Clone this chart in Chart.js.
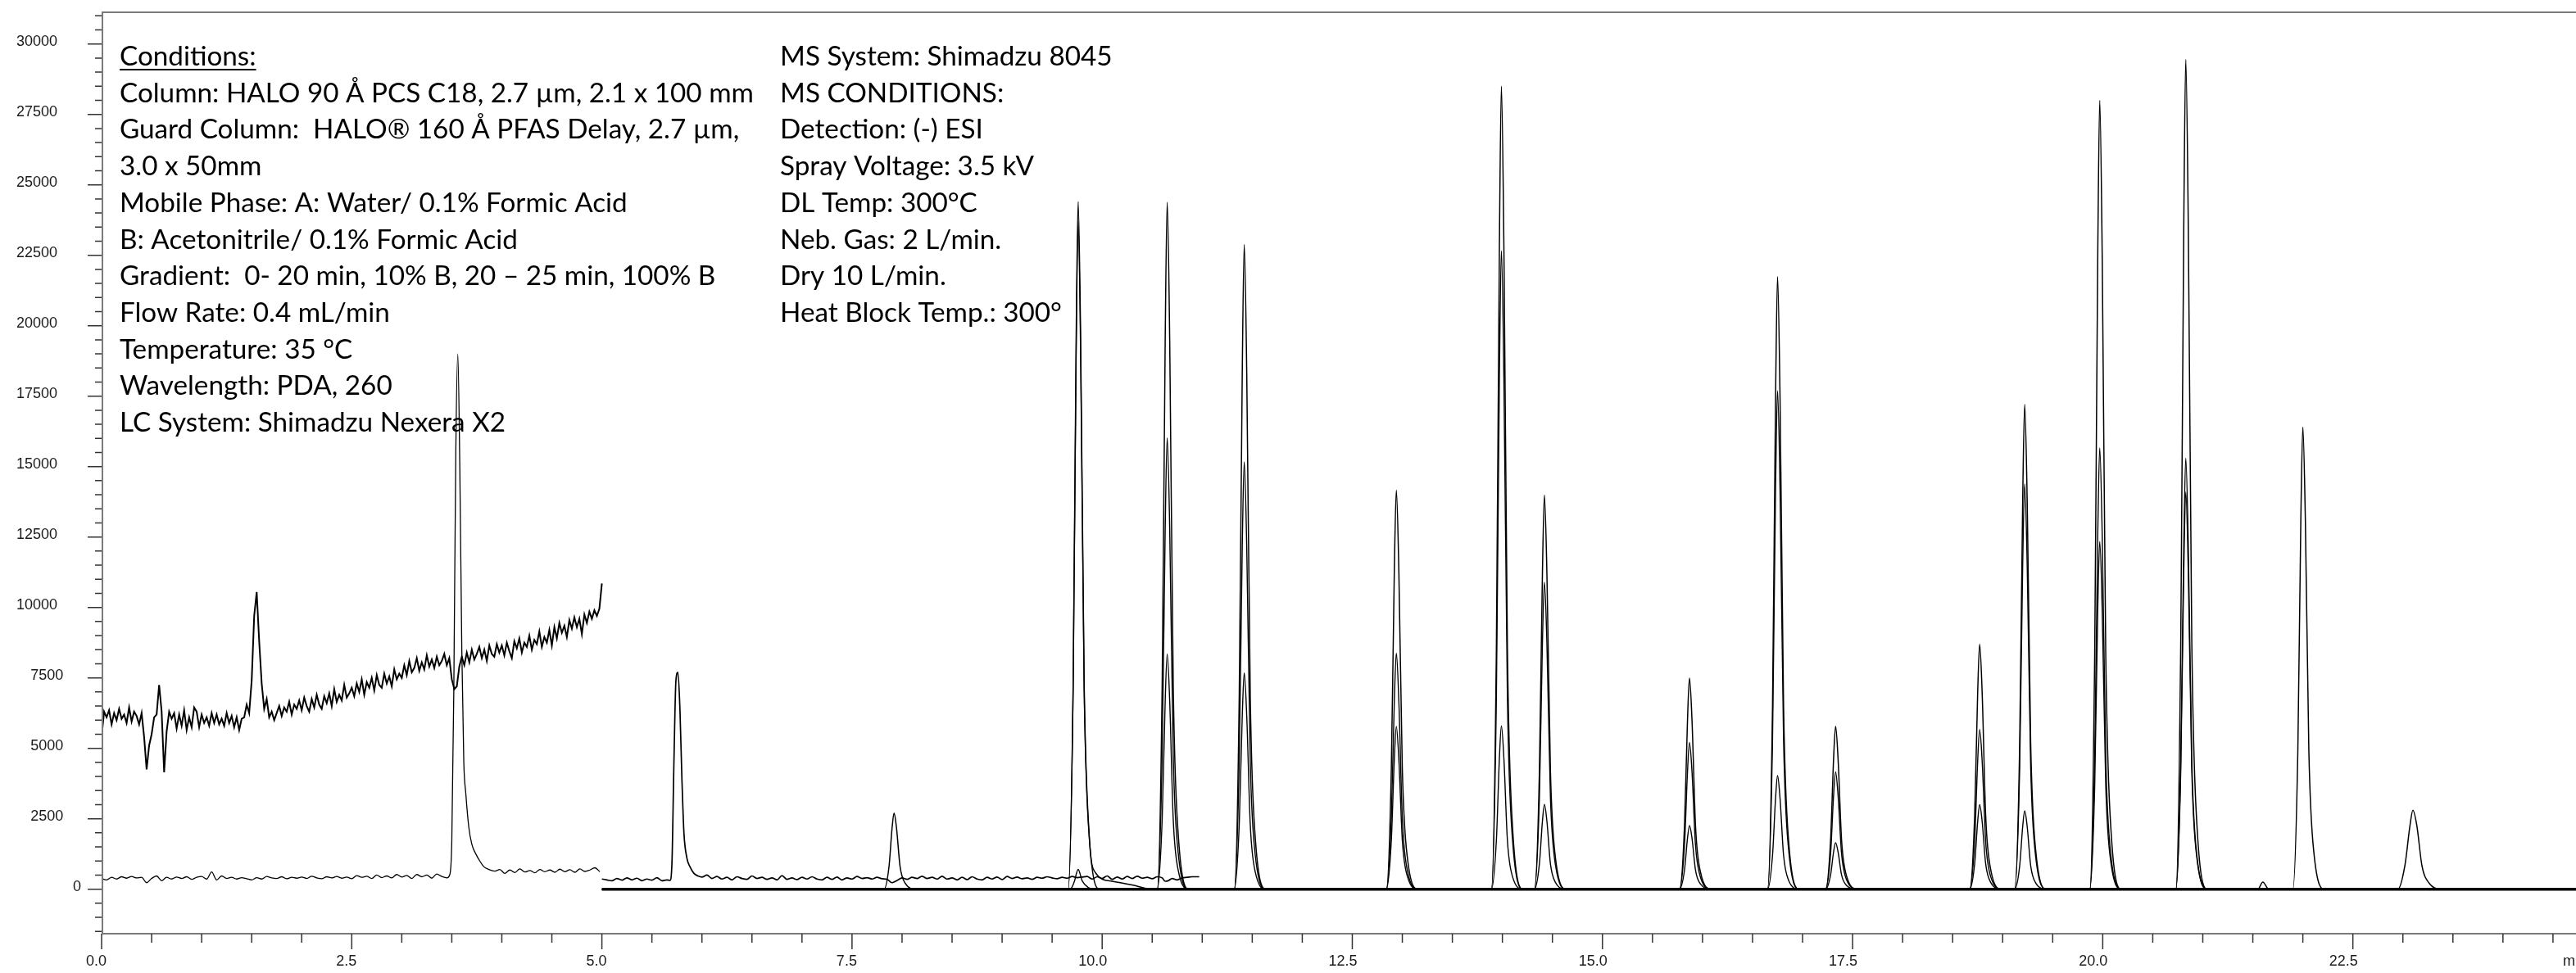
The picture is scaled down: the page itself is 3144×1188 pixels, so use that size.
<!DOCTYPE html>
<html>
<head>
<meta charset="utf-8">
<script src="https://cdn.jsdelivr.net/npm/chart.js@4.4.1/dist/chart.umd.min.js"></script>
<style>
  html, body { margin: 0; padding: 0; background: #fff; }
  canvas { display: block; }
</style>
</head>
<body>
<canvas id="chrom" width="3144" height="1188"></canvas>
<script>
// axis ranges and labelled ticks
const xTickLabels = [0, 2.5, 5, 7.5, 10, 12.5, 15, 17.5, 20, 22.5];
const yTickLabels = [0, 2500, 5000, 7500, 10000, 12500, 15000, 17500, 20000, 22500, 25000, 27500, 30000];
const timeMin = 0, timeMax = 24.73;
const signalMin = -1580, signalMax = 31125;

// PDA trace (0 - 5 min), sampled every 0.025 min
const pdaStart = 0, pdaStep = 0.025;
const pdaValues = [
  5400, 6300, 6100, 6350, 5850, 6250, 6000, 6400, 6050, 6200, 5900, 6450, 5950, 6300, 6150, 5850, 6250, 5400, 4250, 5100,
  5500, 6100, 6200, 7250, 6300, 4150, 5600, 6300, 6050, 6250, 5700, 6200, 5800, 6350, 5650, 6100, 5750, 6450, 6300, 5750,
  6200, 5900, 6100, 5800, 6250, 5900, 6200, 5850, 6050, 5800, 6250, 5900, 6150, 5750, 6100, 5650, 6050, 6100, 6550, 6250,
  7400, 9700, 10550, 8800, 7300, 6400, 6750, 6100, 6300, 6000, 6250, 6500, 6150, 6450, 6300, 6650, 6200, 6550, 6400, 6700,
  6350, 6800, 6500, 6300, 6750, 6450, 6900, 6550, 6400, 6850, 6600, 6950, 6500, 7100, 6650, 6900, 6700, 7250, 6800, 6950,
  7150, 6850, 7300, 7000, 7450, 6900, 7350, 7150, 7500, 7050, 7600, 7250, 7150, 7650, 7300, 7550, 7200, 7800, 7450, 7650,
  7500, 7950, 7600, 8100, 7700, 7850, 8200, 7750, 8050, 7800, 8300, 7900, 8150, 7850, 8250, 7950, 8100, 8350, 7950, 8200,
  7450, 7100, 7200, 7900, 8250, 7950, 8400, 8050, 8500, 8150, 8350, 8600, 8200, 8500, 8100, 8650, 8350, 8250, 8700, 8400,
  8650, 8300, 8750, 8450, 8200, 8800, 8550, 8900, 8400, 8750, 8600, 9000, 8500, 8850, 8700, 9150, 8600, 8950, 8750, 9200,
  8650, 9300, 8900, 9450, 9100, 9350, 8950, 9550, 9250, 9650, 9300, 9600, 9050, 9750, 9450, 9850, 9600, 9900, 9700, 9950,
  10850
];

// low trace 0 - 5 min [time, signal]
const lowTrace = [
  [0,380],[0.05,330],[0.1,420],[0.15,360],[0.2,440],[0.25,390],[0.3,450],[0.35,400],[0.4,420],[0.45,230],
  [0.5,380],[0.55,470],[0.6,300],[0.65,420],[0.7,360],[0.75,430],[0.8,380],[0.85,440],[0.9,350],[0.95,420],
  [1.0,450],[1.05,360],[1.1,610],[1.15,330],[1.2,470],[1.25,380],[1.3,420],[1.35,360],[1.4,410],[1.45,370],
  [1.5,330],[1.55,410],[1.6,360],[1.65,450],[1.7,400],[1.75,380],[1.8,440],[1.85,370],[1.9,420],[1.95,390],
  [2.0,430],[2.05,380],[2.1,460],[2.15,400],[2.2,370],[2.25,440],[2.3,400],[2.35,450],[2.4,390],[2.45,430],
  [2.5,370],[2.55,480],[2.6,420],[2.65,460],[2.7,380],[2.75,500],[2.8,410],[2.85,470],[2.9,400],[2.95,520],
  [3.0,430],[3.05,490],[3.1,380],[3.15,520],[3.2,440],[3.25,500],[3.3,390],[3.35,540],[3.4,450],[3.45,400],
  [3.48,520],[3.5,1700],[3.52,7000],[3.54,15500],[3.56,19000],[3.58,15000],[3.6,8500],[3.62,4500],[3.64,3400],
  [3.67,2200],[3.7,1600],[3.74,1250],[3.78,1000],[3.82,800],[3.87,700],[3.93,640],
  [3.98,700],[4.03,560],[4.08,680],[4.13,590],[4.18,720],[4.23,610],[4.28,660],[4.33,580],[4.38,700],[4.43,620],
  [4.48,680],[4.53,600],[4.58,710],[4.63,620],[4.68,690],[4.73,600],[4.78,720],[4.83,630],[4.88,680],[4.93,760],[4.98,620]
];

// second low trace 5 - 11 min
const midTrace = [
  [5.0,360],[5.05,330],[5.1,300],[5.15,380],[5.2,320],[5.25,400],[5.3,330],[5.35,390],[5.4,300],[5.45,360],
  [5.5,320],[5.55,410],[5.6,300],[5.65,330],[5.68,310],[5.7,900],[5.72,4500],[5.74,7400],[5.76,7700],[5.78,6400],
  [5.8,3900],[5.82,2000],[5.85,1100],[5.88,800],[5.92,560],[5.96,470],[6.0,430],[6.05,500],[6.1,380],[6.15,450],
  [6.2,360],[6.25,420],[6.3,330],[6.35,440],[6.4,380],[6.45,350],[6.5,470],[6.55,380],[6.6,420],[6.65,350],
  [6.7,400],[6.75,330],[6.8,480],[6.85,350],[6.9,400],[6.95,340],[7.0,420],[7.05,360],[7.1,440],[7.15,360],
  [7.2,330],[7.25,420],[7.3,350],[7.35,430],[7.4,330],[7.45,400],[7.5,360],[7.55,450],[7.6,380],[7.65,410],
  [7.7,360],[7.75,420],[7.8,370],[7.85,350],[7.9,230],[7.95,310],[8.0,400],[8.05,350],[8.1,420],[8.15,380],
  [8.2,460],[8.25,380],[8.3,420],[8.35,360],[8.4,460],[8.45,360],[8.5,400],[8.55,330],[8.6,420],[8.65,340],
  [8.7,440],[8.75,360],[8.8,330],[8.85,420],[8.9,360],[8.95,430],[9.0,340],[9.05,450],[9.1,380],[9.15,430],
  [9.2,370],[9.25,400],[9.3,350],[9.35,420],[9.4,390],[9.45,440],[9.5,400],[9.55,370],[9.6,420],[9.65,390],
  [9.7,450],[9.75,410],[9.8,430],[9.85,450],[9.9,360],[9.95,440],[10.0,380],[10.05,470],[10.1,350],[10.15,430],
  [10.2,360],[10.25,450],[10.3,380],[10.35,460],[10.4,390],[10.45,420],[10.5,370],[10.55,440],[10.6,400],[10.63,280],
  [10.66,300],[10.7,380],[10.75,330],[10.8,400],[10.85,420],[10.9,440],[10.97,440]
];

// MS traces, tallest envelope
const mrmA = [
  [5.0,0],
  [7.82,0],[7.87,810],[7.9,2160],[7.92,2700],[7.945,2160],[7.98,810],[8.03,216],[8.14,0],
  [9.66,0],[9.71,7320],[9.74,19520],[9.76,24400],[9.785,19520],[9.82,7320],[9.87,1952],[9.93,600],[10.1,280],[10.3,150],[10.5,0],
  [10.55,0],[10.6,7310],[10.63,19500],[10.65,24380],[10.675,19500],[10.71,7310],[10.76,1950],[10.87,0],
  [11.32,0],[11.37,6860],[11.4,18300],[11.42,22880],[11.445,18300],[11.48,6860],[11.53,1830],[11.64,0],
  [12.84,0],[12.89,4250],[12.92,11330],[12.94,14160],[12.965,11330],[13.0,4250],[13.05,1130],[13.16,0],
  [13.89,0],[13.94,8550],[13.97,22800],[13.99,28500],[14.015,22800],[14.05,8550],[14.1,2280],[14.21,0],
  [14.32,0],[14.37,4200],[14.4,11190],[14.42,13990],[14.445,11190],[14.48,4200],[14.53,1120],[14.64,0],
  [15.77,0],[15.82,2250],[15.85,6000],[15.87,7500],[15.895,6000],[15.93,2250],[15.98,600],[16.09,0],
  [16.65,0],[16.7,6520],[16.73,17390],[16.75,21740],[16.775,17390],[16.81,6520],[16.86,1740],[16.97,0],
  [17.23,0],[17.28,1730],[17.31,4620],[17.33,5780],[17.355,4620],[17.39,1730],[17.44,460],[17.55,0],
  [18.67,0],[18.72,2610],[18.75,6960],[18.77,8700],[18.795,6960],[18.83,2610],[18.88,700],[18.99,0],
  [19.12,0],[19.17,5160],[19.2,13770],[19.22,17210],[19.245,13770],[19.28,5160],[19.33,1380],[19.44,0],
  [19.87,0],[19.92,8400],[19.95,22400],[19.97,28000],[19.995,22400],[20.03,8400],[20.08,2240],[20.19,0],
  [20.73,0],[20.78,8840],[20.81,23560],[20.83,29450],[20.855,23560],[20.89,8840],[20.94,2360],[21.05,0],
  [21.55,0],[21.6,250],[21.66,0],
  [21.9,0],[21.95,4920],[21.98,13120],[22.0,16400],[22.025,13120],[22.06,4920],[22.11,1310],[22.22,0],
  [22.95,0],[23.02,840],[23.07,2240],[23.1,2800],[23.14,2240],[23.19,840],[23.26,224],[23.4,0],
  [24.73,0]
];

// MS traces, middle
const mrmB = [
  [5.0,0],
  [9.66,0],[9.71,7100],[9.74,18940],[9.76,23680],[9.785,18940],[9.82,7100],[9.87,1890],[9.98,0],
  [10.55,0],[10.6,4800],[10.63,12810],[10.65,16015],[10.675,12810],[10.71,4800],[10.76,1280],[10.87,0],
  [11.32,0],[11.37,4550],[11.4,12140],[11.42,15170],[11.445,12140],[11.48,4550],[11.53,1210],[11.64,0],
  [12.84,0],[12.89,2510],[12.92,6700],[12.94,8380],[12.965,6700],[13.0,2510],[13.05,670],[13.16,0],
  [13.89,0],[13.94,6800],[13.97,18130],[13.99,22660],[14.015,18130],[14.05,6800],[14.1,1810],[14.21,0],
  [14.32,0],[14.37,3270],[14.4,8720],[14.42,10900],[14.445,8720],[14.48,3270],[14.53,870],[14.64,0],
  [15.77,0],[15.82,1560],[15.85,4170],[15.87,5210],[15.895,4170],[15.93,1560],[15.98,420],[16.09,0],
  [16.65,0],[16.7,5310],[16.73,14150],[16.75,17690],[16.775,14150],[16.81,5310],[16.86,1420],[16.97,0],
  [17.23,0],[17.28,1250],[17.31,3330],[17.33,4160],[17.355,3330],[17.39,1250],[17.44,330],[17.55,0],
  [18.67,0],[18.72,1700],[18.75,4540],[18.77,5670],[18.795,4540],[18.83,1700],[18.88,450],[18.99,0],
  [19.12,0],[19.17,4320],[19.2,11510],[19.22,14390],[19.245,11510],[19.28,4320],[19.33,1150],[19.44,0],
  [19.87,0],[19.92,4700],[19.95,12530],[19.97,15660],[19.995,12530],[20.03,4700],[20.08,1250],[20.19,0],
  [20.73,0],[20.78,4590],[20.81,12240],[20.83,15300],[20.855,12240],[20.89,4590],[20.94,1220],[21.05,0],
  [24.73,0]
];

// MS traces, lowest
const mrmC = [
  [5.0,0],
  [9.68,0],[9.72,250],[9.76,700],[9.8,300],[9.86,60],[9.92,0],
  [10.55,0],[10.6,2500],[10.63,6680],[10.65,8350],[10.675,6680],[10.71,2500],[10.76,670],[10.87,0],
  [11.32,0],[11.37,2300],[11.4,6140],[11.42,7680],[11.445,6140],[11.48,2300],[11.53,610],[11.64,0],
  [12.84,0],[12.89,1730],[12.92,4620],[12.94,5780],[12.965,4620],[13.0,1730],[13.05,460],[13.16,0],
  [13.89,0],[13.94,1740],[13.97,4640],[13.99,5800],[14.015,4640],[14.05,1740],[14.1,460],[14.21,0],
  [14.32,0],[14.37,900],[14.4,2410],[14.42,3010],[14.445,2410],[14.48,900],[14.53,240],[14.64,0],
  [15.77,0],[15.82,680],[15.85,1810],[15.87,2260],[15.895,1810],[15.93,680],[15.98,180],[16.09,0],
  [16.65,0],[16.7,1210],[16.73,3220],[16.75,4030],[16.775,3220],[16.81,1210],[16.86,320],[16.97,0],
  [17.23,0],[17.28,500],[17.31,1320],[17.33,1650],[17.355,1320],[17.39,500],[17.44,130],[17.55,0],
  [18.67,0],[18.72,900],[18.75,2400],[18.77,3000],[18.795,2400],[18.83,900],[18.88,240],[18.99,0],
  [19.12,0],[19.17,830],[19.2,2220],[19.22,2780],[19.245,2220],[19.28,830],[19.33,220],[19.44,0],
  [19.87,0],[19.92,3700],[19.95,9870],[19.97,12340],[19.995,9870],[20.03,3700],[20.08,990],[20.19,0],
  [20.73,0],[20.78,4230],[20.81,11280],[20.83,14100],[20.855,11280],[20.89,4230],[20.94,1130],[21.05,0],
  [24.73,0]
];

// overlapping MS baselines
const mrmBaseline = [[5.0,0],[24.73,0]];

const conditionLines = [
  'Conditions:',
  'Column: HALO 90 Å PCS C18, 2.7 µm, 2.1 x 100 mm',
  'Guard Column:  HALO® 160 Å PFAS Delay, 2.7 µm,',
  '3.0 x 50mm',
  'Mobile Phase: A: Water/ 0.1% Formic Acid',
  'B: Acetonitrile/ 0.1% Formic Acid',
  'Gradient:  0- 20 min, 10% B, 20 – 25 min, 100% B',
  'Flow Rate: 0.4 mL/min',
  'Temperature: 35 °C',
  'Wavelength: PDA, 260',
  'LC System: Shimadzu Nexera X2'
];
const msLines = [
  'MS System: Shimadzu 8045',
  'MS CONDITIONS:',
  'Detection: (-) ESI',
  'Spray Voltage: 3.5 kV',
  'DL Temp: 300°C',
  'Neb. Gas: 2 L/min.',
  'Dry 10 L/min.',
  'Heat Block Temp.: 300°'
];

const toXY = arr => arr.map(p => ({ x: p[0], y: p[1] }));
const pdaPoints = pdaValues.map((v, i) => ({ x: pdaStart + i * pdaStep, y: v }));

const axisFont = "18px 'Liberation Sans', Arial, sans-serif";
const textFont = "'Lato', 'Carlito', 'Open Sans', sans-serif";

const axesPlugin = {
  id: 'axes',
  afterDraw(chart) {
    const { ctx, chartArea: a, scales: { x, y } } = chart;
    ctx.save();

    // frame lines
    ctx.strokeStyle = '#7a7a7a';
    ctx.lineWidth = 2;
    ctx.beginPath();
    ctx.moveTo(a.left, a.top); ctx.lineTo(a.right, a.top);
    ctx.moveTo(a.left + 1, a.top); ctx.lineTo(a.left + 1, a.bottom);
    ctx.moveTo(a.left, a.bottom); ctx.lineTo(a.right, a.bottom);
    ctx.stroke();

    // y ticks
    ctx.strokeStyle = '#333';
    ctx.lineWidth = 1.5;
    ctx.beginPath();
    for (let v = -1500; v <= 31000; v += 500) {
      const py = y.getPixelForValue(v);
      if (py < a.top || py > a.bottom) continue;
      const len = v % 2500 === 0 ? 17 : 8;
      ctx.moveTo(a.left - len, py); ctx.lineTo(a.left, py);
    }
    // x ticks
    for (let i = 0; i * 0.5 <= timeMax; i++) {
      const px = x.getPixelForValue(i * 0.5);
      const len = i % 5 === 0 ? 19 : 11;
      ctx.moveTo(px, a.bottom); ctx.lineTo(px, a.bottom + len);
    }
    ctx.stroke();

    // tick labels
    ctx.fillStyle = '#1a1a1a';
    ctx.font = axisFont;
    ctx.textBaseline = 'alphabetic';
    ctx.textAlign = 'right';
    yTickLabels.forEach(v => {
      const s = String(v);
      const py = y.getPixelForValue(v);
      ctx.fillText(s, a.left - 54 + 7.25 * (5 - s.length), py + 2);
    });
    xTickLabels.forEach(v => {
      const px = x.getPixelForValue(v);
      ctx.fillText(v.toFixed(1), px + 6, a.bottom + 39);
    });
    ctx.textAlign = 'left';
    ctx.fillText('min', a.right - 16, a.bottom + 39);

    // conditions text
    ctx.font = '100px ' + textFont;
    const fs = 100 * 774 / ctx.measureText(conditionLines[1]).width;
    ctx.font = fs.toFixed(2) + 'px ' + textFont;
    ctx.fillStyle = '#000';
    const pitch = 44.7;
    conditionLines.forEach((s, i) => ctx.fillText(s, 146, 80 + i * pitch));
    const uw = ctx.measureText(conditionLines[0]).width;
    ctx.fillRect(146, 84, uw, 2);
    msLines.forEach((s, i) => ctx.fillText(s, 952, 80 + i * pitch));

    ctx.restore();
  }
};

const ctx = document.getElementById('chrom').getContext('2d');
new Chart(ctx, {
  type: 'line',
  data: {
    datasets: [
      { label: 'MS baseline', data: toXY(mrmBaseline), borderColor: '#000', borderWidth: 3.5 },
      { label: 'MS C', data: toXY(mrmC), borderColor: '#000', borderWidth: 1.4, cubicInterpolationMode: 'monotone' },
      { label: 'MS B', data: toXY(mrmB), borderColor: '#000', borderWidth: 1.4, cubicInterpolationMode: 'monotone' },
      { label: 'MS A', data: toXY(mrmA), borderColor: '#000', borderWidth: 1.5, cubicInterpolationMode: 'monotone' },
      { label: 'Mid trace', data: toXY(midTrace), borderColor: '#000', borderWidth: 1.7, cubicInterpolationMode: 'monotone' },
      { label: 'Low trace', data: toXY(lowTrace), borderColor: '#000', borderWidth: 1.3, cubicInterpolationMode: 'monotone' },
      { label: 'PDA', data: pdaPoints, borderColor: '#000', borderWidth: 2 }
    ]
  },
  options: {
    responsive: false,
    animation: false,
    layout: { padding: { left: 20, top: 15, right: 0, bottom: 0 } },
    plugins: { legend: { display: false }, tooltip: { enabled: false } },
    elements: { point: { radius: 0 }, line: { tension: 0 } },
    scales: {
      x: {
        type: 'linear', min: timeMin, max: timeMax,
        ticks: { display: false, includeBounds: false },
        grid: { display: false, drawTicks: false },
        border: { display: false },
        afterFit: s => { s.height = 48; }
      },
      y: {
        type: 'linear', min: signalMin, max: signalMax,
        ticks: { display: false, includeBounds: false },
        grid: { display: false, drawTicks: false },
        border: { display: false },
        afterFit: s => { s.width = 104; }
      }
    }
  },
  plugins: [axesPlugin]
});
</script>
</body>
</html>
